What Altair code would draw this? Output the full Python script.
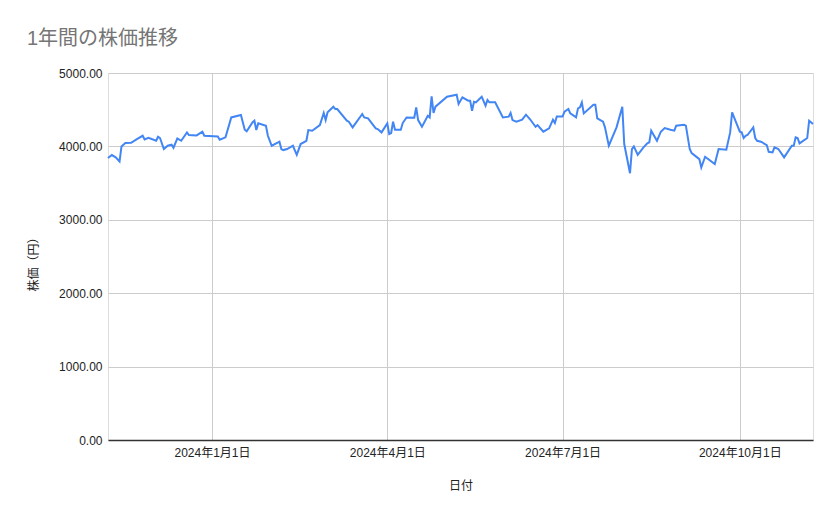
import altair as alt
import pandas as pd

dates = [
    "2023-11-08", "2023-11-10", "2023-11-12", "2023-11-14", "2023-11-15", "2023-11-17",
    "2023-11-20", "2023-11-23", "2023-11-26", "2023-11-27", "2023-11-29", "2023-12-03",
    "2023-12-04", "2023-12-05", "2023-12-07", "2023-12-09", "2023-12-11", "2023-12-12",
    "2023-12-14", "2023-12-16", "2023-12-19", "2023-12-20", "2023-12-24", "2023-12-27",
    "2023-12-28", "2024-01-04", "2024-01-05", "2024-01-08", "2024-01-11", "2024-01-16",
    "2024-01-18", "2024-01-19", "2024-01-22", "2024-01-23", "2024-01-24", "2024-01-25",
    "2024-01-29", "2024-01-30", "2024-02-01", "2024-02-05", "2024-02-06", "2024-02-07",
    "2024-02-09", "2024-02-12", "2024-02-14", "2024-02-16", "2024-02-19", "2024-02-20",
    "2024-02-22", "2024-02-26", "2024-02-28", "2024-02-29", "2024-03-01", "2024-03-04",
    "2024-03-05", "2024-03-06", "2024-03-11", "2024-03-12", "2024-03-14", "2024-03-19",
    "2024-03-20", "2024-03-22", "2024-03-26", "2024-03-27", "2024-03-29", "2024-04-01",
    "2024-04-02", "2024-04-03", "2024-04-04", "2024-04-05", "2024-04-08", "2024-04-09",
    "2024-04-11", "2024-04-15", "2024-04-16", "2024-04-17", "2024-04-19", "2024-04-22",
    "2024-04-23", "2024-04-24", "2024-04-25", "2024-04-26", "2024-05-02", "2024-05-07",
    "2024-05-08", "2024-05-10", "2024-05-13", "2024-05-14", "2024-05-15", "2024-05-16",
    "2024-05-17", "2024-05-20", "2024-05-22", "2024-05-23", "2024-05-24", "2024-05-27",
    "2024-05-31", "2024-06-03", "2024-06-04", "2024-06-05", "2024-06-07", "2024-06-10",
    "2024-06-12", "2024-06-14", "2024-06-17", "2024-06-18", "2024-06-21", "2024-06-24",
    "2024-06-26", "2024-06-27", "2024-06-28", "2024-07-01", "2024-07-02", "2024-07-04",
    "2024-07-05", "2024-07-08", "2024-07-09", "2024-07-10", "2024-07-11", "2024-07-12",
    "2024-07-17", "2024-07-18", "2024-07-19", "2024-07-22", "2024-07-23", "2024-07-25",
    "2024-07-29", "2024-08-01", "2024-08-02", "2024-08-05", "2024-08-06", "2024-08-07",
    "2024-08-09", "2024-08-12", "2024-08-14", "2024-08-15", "2024-08-16", "2024-08-19",
    "2024-08-21", "2024-08-23", "2024-08-26", "2024-08-28", "2024-08-29", "2024-09-02",
    "2024-09-03", "2024-09-05", "2024-09-06", "2024-09-10", "2024-09-11", "2024-09-13",
    "2024-09-18", "2024-09-20", "2024-09-24", "2024-09-26", "2024-09-27", "2024-10-01",
    "2024-10-02", "2024-10-03", "2024-10-04", "2024-10-05", "2024-10-08", "2024-10-09",
    "2024-10-10", "2024-10-12", "2024-10-15", "2024-10-16", "2024-10-18", "2024-10-19",
    "2024-10-21", "2024-10-24", "2024-10-28", "2024-10-29", "2024-10-30", "2024-10-31",
    "2024-11-01", "2024-11-05", "2024-11-06", "2024-11-08",
]

prices = [
    3841, 3882, 3850, 3795, 4000, 4045,
    4050, 4100, 4145, 4095, 4118, 4077,
    4132, 4114, 3964, 4009, 4023, 3982,
    4109, 4077, 4191, 4155, 4150, 4200,
    4145, 4136, 4091, 4123, 4395, 4427,
    4227, 4205, 4327, 4350, 4223, 4314,
    4282, 4145, 4009, 4064, 3964, 3950,
    3964, 4009, 3886, 4032, 4077, 4223,
    4214, 4291, 4455, 4359, 4464, 4541,
    4509, 4509, 4350, 4336, 4259, 4441,
    4395, 4382, 4245, 4236, 4191, 4314,
    4168, 4182, 4336, 4227, 4227, 4318,
    4395, 4391, 4532, 4359, 4268, 4418,
    4395, 4682, 4455, 4541, 4677, 4705,
    4577, 4668, 4623, 4623, 4486, 4609,
    4600, 4677, 4555, 4632, 4600, 4600,
    4395, 4405, 4455, 4359, 4336, 4364,
    4432, 4373, 4268, 4291, 4200, 4245,
    4364, 4318, 4409, 4409, 4473, 4509,
    4450, 4395, 4518, 4532, 4600, 4450,
    4568, 4568, 4382, 4336, 4259, 4009,
    4259, 4541, 4032, 3635, 3964, 4000,
    3886, 3986, 4041, 4055, 4214, 4077,
    4200, 4250, 4227, 4214, 4282, 4295,
    4282, 3964, 3909, 3827, 3714, 3859,
    3759, 3964, 3955, 4191, 4464, 4200,
    4191, 4114, 4145, 4155, 4259, 4114,
    4077, 4064, 4018, 3927, 3918, 3986,
    3964, 3850, 4009, 4009, 4123, 4114,
    4041, 4114, 4350, 4305,
]

tick_dates = [(2024, 1, 1), (2024, 4, 1), (2024, 7, 1), (2024, 10, 1)]
y_ticks = [0, 1000, 2000, 3000, 4000, 5000]

df = pd.DataFrame({"日付": dates, "株価": prices})

FONT = "Liberation Sans, Arial, Noto Sans CJK JP"

chart = (
    alt.Chart(df)
    .mark_line(color="#4285F4", strokeWidth=2)
    .encode(
        x=alt.X(
            "日付:T",
            title="日付",
            scale=alt.Scale(
                type="utc",
                domain=[
                    alt.DateTime(year=2023, month=11, date=8, utc=True),
                    alt.DateTime(year=2024, month=11, date=8, utc=True),
                ],
                nice=False,
            ),
            axis=alt.Axis(
                values=[alt.DateTime(year=y, month=m, date=d, utc=True) for (y, m, d) in tick_dates],
                labelExpr="utcFormat(datum.value, '%Y年%-m月%-d日')",
                grid=True,
                gridColor="#cccccc",
                ticks=False,
                domain=True,
                domainColor="#333333",
                domainWidth=1.5,
                labelPadding=7,
                labelFontSize=12,
                labelColor="#222222",
                labelFont=FONT,
                titleFont=FONT,
                titleFontSize=12,
                titleFontWeight="normal",
                titleColor="#222222",
                titlePadding=22,
            ),
        ),
        y=alt.Y(
            "株価:Q",
            title="株価（円）",
            scale=alt.Scale(domain=[0, 5000], nice=False, zero=True),
            axis=alt.Axis(
                values=y_ticks,
                format=".2f",
                grid=True,
                gridColor="#cccccc",
                ticks=False,
                domain=False,
                labelPadding=6,
                labelFontSize=12,
                labelColor="#222222",
                labelFont=FONT,
                titleFont=FONT,
                titleFontSize=12,
                titleFontWeight="normal",
                titleColor="#222222",
                titlePadding=18,
                titleY=188,
            ),
        ),
    )
    .properties(
        width=705,
        height=367,
        autosize=alt.AutoSizeParams(type="none"),
        padding={"left": 100, "top": 65, "right": 18, "bottom": 71},
        title=alt.TitleParams(
            text="1年間の株価推移",
            anchor="start",
            frame="group",
            dx=-81,
            offset=18,
            fontSize=20,
            fontWeight="normal",
            color="#757575",
            font=FONT,
        ),
    )
    .configure_view(stroke=None)
    .configure(background="white")
)

chart.save("out.html", embed_options={"renderer": "svg", "actions": False})
